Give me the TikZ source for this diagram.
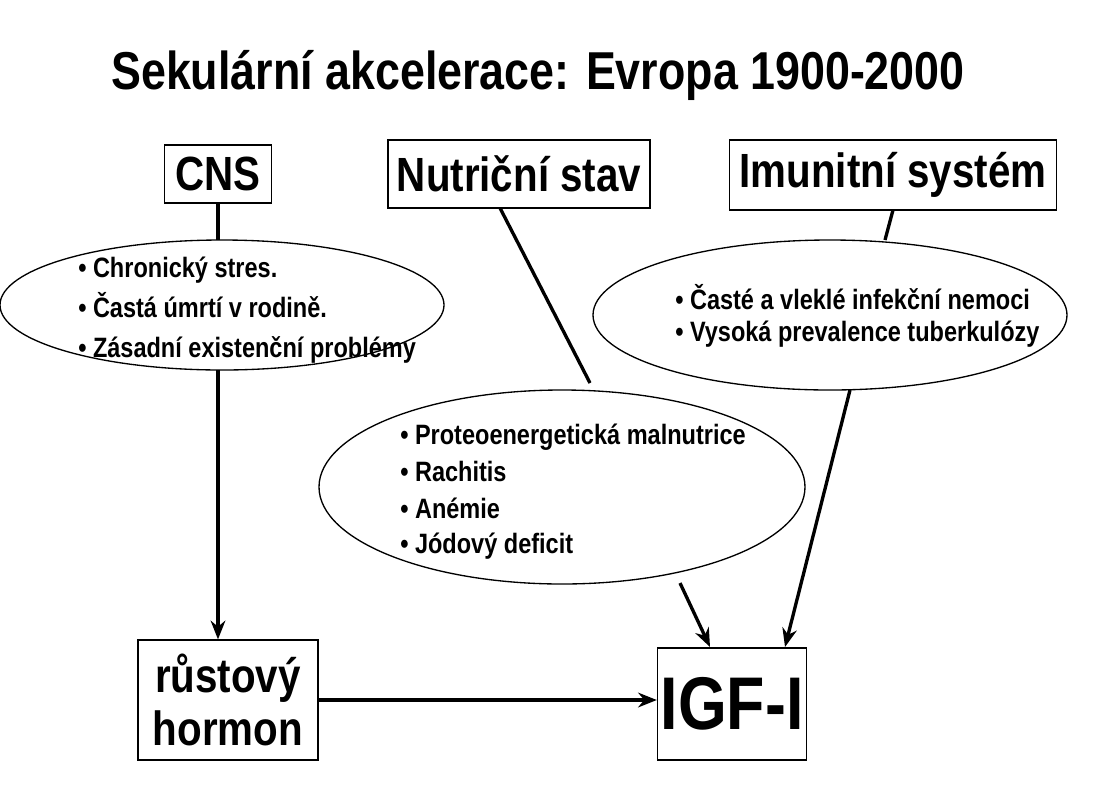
\documentclass[tikz,border=0pt]{standalone}
\usepackage{fontspec}
\setmainfont{Liberation Sans}[FakeStretch=0.84]
\usetikzlibrary{arrows.meta}
\begin{document}
\begin{tikzpicture}[x=0.75pt,y=-0.75pt,font=\bfseries,
  box/.style={draw,line width=1pt,inner sep=0pt},
  conn/.style={line width=2.5pt},
  arr/.style={line width=2.5pt,-{Stealth[length=14pt,width=11pt]}},
  itm/.style={anchor=west,inner sep=0pt,font=\bfseries\fontsize{21}{24}\selectfont}]
\useasboundingbox (0,0) rectangle (1095,800);
\node (title) at (538,75) {\fontsize{40}{46}\selectfont Sekulární akcelerace: Evropa 1900-2000};
\node[box,minimum width=107*0.75pt,minimum height=58*0.75pt,font=\bfseries\fontsize{36}{40}\selectfont] (cns) at (218,174) {CNS};
\node[box,minimum width=262*0.75pt,minimum height=68*0.75pt,font=\bfseries\fontsize{36}{40}\selectfont] (nut) at (519,174) {Nutriční stav};
\node[box,minimum width=327*0.75pt,minimum height=70*0.75pt,font=\bfseries\fontsize{36}{40}\selectfont] (imu) at (893,175) {Imunitní systém};
\node[box,minimum width=180*0.75pt,minimum height=120*0.75pt,align=center,font=\bfseries\fontsize{36}{40}\selectfont] (gh) at (228,700) {růstový\\hormon};
\node[box,minimum width=149*0.75pt,minimum height=112*0.75pt,font=\bfseries\fontsize{56}{60}\selectfont] (igf) at (732,704) {IGF-I};
\draw[line width=1pt] (222,305) ellipse [x radius=222, y radius=65];
\draw[line width=1pt] (830,315) ellipse [x radius=237, y radius=75];
\draw[line width=1pt] (562,487) ellipse [x radius=243, y radius=97];
\coordinate (l1) at (218,240); \coordinate (l2) at (218,370);
\coordinate (m1) at (590,383); \coordinate (m2) at (680,583);
\coordinate (r1) at (885,240); \coordinate (r2) at (850,390);
\draw[conn] (cns.south -| l1) -- (l1);
\draw[arr] (l2) -- (gh.north -| l2);
\draw[conn] (500,208) -- (m1);
\draw[arr] (m2) -- (710,647);
\draw[conn] (893,210) -- (r1);
\draw[arr] (r2) -- (785,647);
\draw[arr] (gh.east) -- (igf.west |- gh.east);
\node[itm] (a1) at (78,270) {• Chronický stres.};
\node[itm] (a2) at (78,305) {• Častá úmrtí v rodině.};
\node[itm] (a3) at (78,350) {• Zásadní existenční problémy};
\node[itm] (b1) at (675,297) {• Časté a vleklé infekční nemoci};
\node[itm] (b2) at (675,334) {• Vysoká prevalence tuberkulózy};
\node[itm] (c1) at (400,437) {• Proteoenergetická malnutrice};
\node[itm] (c2) at (400,471) {• Rachitis};
\node[itm] (c3) at (400,508) {• Anémie};
\node[itm] (c4) at (400,546) {• Jódový deficit};
\end{tikzpicture}
\end{document}
